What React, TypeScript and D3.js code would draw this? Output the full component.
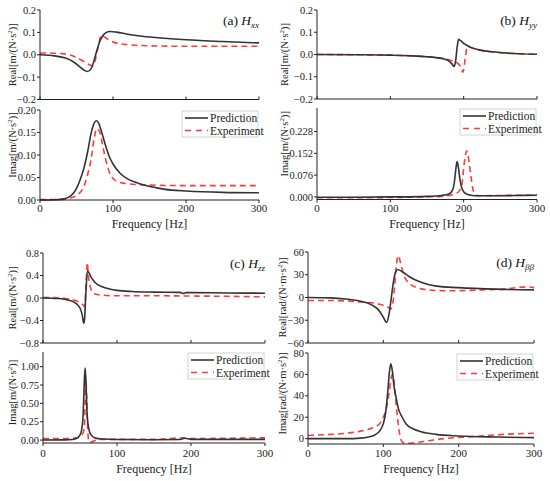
import * as d3 from 'd3';

// ---- panel (a) H_xx ----
const aRealPredF = [0, 20, 35, 45, 55, 60, 65, 70, 75, 78, 82, 86, 90, 96, 105, 120, 140, 170, 200, 250, 300];
const aRealPredV = [0, -0.005, -0.015, -0.03, -0.055, -0.068, -0.075, -0.062, -0.015, 0.02, 0.06, 0.085, 0.098, 0.104, 0.101, 0.092, 0.083, 0.074, 0.067, 0.059, 0.053];
const aRealExpF = [0, 20, 40, 50, 60, 68, 72, 76, 80, 84, 88, 95, 105, 120, 150, 200, 300];
const aRealExpV = [0.008, 0.007, 0.0, -0.012, -0.03, -0.045, -0.05, -0.02, 0.04, 0.088, 0.08, 0.065, 0.052, 0.045, 0.04, 0.038, 0.038];
const aImagPredF = [0, 20, 30, 40, 50, 55, 60, 65, 70, 74, 77, 80, 85, 90, 95, 100, 110, 120, 130, 145, 160, 180, 200, 250, 300];
const aImagPredV = [0, 0.0005, 0.002, 0.007, 0.026, 0.045, 0.07, 0.105, 0.148, 0.17, 0.176, 0.172, 0.148, 0.12, 0.096, 0.08, 0.059, 0.047, 0.04, 0.032, 0.027, 0.022, 0.02, 0.017, 0.016];
const aImagExpF = [0, 20, 35, 40, 50, 60, 65, 70, 74, 78, 82, 86, 90, 95, 100, 105, 110, 120, 150, 200, 300];
const aImagExpV = [0.001, 0.001, 0.002, 0.004, 0.01, 0.03, 0.055, 0.09, 0.135, 0.159, 0.15, 0.12, 0.09, 0.062, 0.048, 0.042, 0.039, 0.036, 0.033, 0.032, 0.032];

// ---- panel (b) H_yy ----
const bRealPredF = [0, 50, 100, 130, 150, 165, 175, 180, 184, 187, 189, 191, 193, 196, 200, 210, 220, 240, 260, 300];
const bRealPredV = [0, -0.001, -0.003, -0.006, -0.01, -0.015, -0.022, -0.03, -0.042, -0.054, -0.03, 0.03, 0.068, 0.062, 0.05, 0.032, 0.022, 0.012, 0.006, 0.001];
const bRealExpF = [0, 50, 100, 130, 150, 165, 175, 183, 190, 195, 199, 202, 205, 210, 220, 240, 260, 300];
const bRealExpV = [0, -0.001, -0.003, -0.006, -0.01, -0.015, -0.02, -0.027, -0.035, -0.05, -0.08, -0.02, 0.035, 0.03, 0.02, 0.011, 0.006, 0.001];
const bImagPredF = [0, 50, 100, 150, 170, 180, 184, 187, 189, 191, 193, 195, 197, 200, 205, 210, 220, 240, 270, 300];
const bImagPredV = [-0.001, -0.001, 0.0, 0.002, 0.005, 0.01, 0.02, 0.045, 0.09, 0.123, 0.1, 0.06, 0.035, 0.018, 0.009, 0.006, 0.004, 0.004, 0.005, 0.006];
const bImagExpF = [0, 50, 100, 150, 170, 180, 190, 195, 198, 200, 202, 204, 206, 208, 210, 212, 215, 220, 250, 300];
const bImagExpV = [-0.003, -0.003, -0.002, 0, 0.002, 0.005, 0.012, 0.025, 0.05, 0.1, 0.14, 0.16, 0.145, 0.11, 0.07, 0.035, 0.01, 0.004, 0.005, 0.006];

// ---- panel (c) H_zz ----
const cRealPredF = [0, 20, 35, 45, 50, 53, 55, 56, 58, 60, 62, 65, 70, 80, 90, 100, 120, 150, 185, 190, 193, 200, 250, 300];
const cRealPredV = [0, -0.01, -0.04, -0.1, -0.18, -0.3, -0.45, -0.4, 0.1, 0.48, 0.45, 0.37, 0.28, 0.2, 0.16, 0.135, 0.115, 0.105, 0.1, 0.08, 0.095, 0.095, 0.09, 0.085];
const cRealExpF = [0, 20, 35, 45, 50, 54, 56, 57, 58, 59, 60, 61, 63, 66, 70, 80, 100, 150, 200, 250, 300];
const cRealExpV = [0.01, 0.005, -0.02, -0.05, -0.08, -0.12, -0.15, -0.05, 0.2, 0.45, 0.63, 0.45, 0.25, 0.12, 0.07, 0.05, 0.04, 0.04, 0.035, 0.03, 0.02];
const cImagPredF = [0, 30, 40, 45, 50, 52, 54, 55, 56, 57, 58, 59, 60, 62, 65, 70, 80, 100, 150, 185, 192, 200, 300];
const cImagPredV = [0, 0.002, 0.008, 0.02, 0.07, 0.13, 0.3, 0.55, 0.85, 0.98, 0.8, 0.5, 0.3, 0.15, 0.07, 0.03, 0.015, 0.008, 0.005, 0.008, 0.025, 0.01, 0.01];
const cImagExpF = [0, 30, 45, 50, 54, 56, 57, 58, 59, 60, 61, 62, 64, 67, 72, 80, 100, 150, 190, 200, 250, 300];
const cImagExpV = [0.02, 0.02, 0.03, 0.05, 0.09, 0.2, 0.5, 0.83, 0.6, 0.25, 0.05, -0.02, -0.03, -0.02, 0.0, 0.01, 0.01, 0.01, 0.03, 0.02, 0.025, 0.03];

// ---- panel (d) H_bb ----
const dRealPredF = [0, 30, 50, 70, 85, 95, 100, 104, 107, 110, 113, 116, 119, 125, 135, 150, 170, 200, 250, 300];
const dRealPredV = [0, -0.5, -2, -5, -10, -18, -26, -33, -25, -5, 18, 33, 37, 34, 27, 20, 15, 13, 11, 10];
const dRealExpF = [0, 30, 50, 70, 85, 95, 105, 110, 113, 115, 117, 120, 123, 127, 135, 145, 160, 180, 200, 230, 260, 290, 300];
const dRealExpV = [-4, -4, -4.5, -6, -7, -9, -12, -15, -5, 15, 40, 55, 45, 30, 18, 13, 10, 9, 9, 10, 11, 14, 13];
const dImagPredF = [0, 50, 70, 80, 90, 95, 100, 103, 106, 108, 110, 112, 114, 117, 120, 125, 130, 140, 150, 170, 200, 250, 300];
const dImagPredV = [0, 0, 0.5, 1.5, 4, 7, 14, 24, 45, 62, 70, 63, 50, 38, 28, 20, 14, 9, 6.5, 4, 2.5, 1.5, 1];
const dImagExpF = [0, 30, 50, 70, 85, 95, 100, 104, 108, 110, 112, 114, 116, 118, 120, 122, 125, 130, 140, 160, 180, 220, 260, 300];
const dImagExpV = [3, 4, 5, 7, 10, 14, 20, 28, 45, 55, 60, 55, 40, 25, 12, 3, -3, -4.5, -4, -2, 0, 2, 4, 5];

const freqTicks = [0, 100, 200, 300];

const FONT = '"Liberation Serif", "Times New Roman", serif';
const PRED = '#333333';
const EXP = '#ff3b3b';

type Sub = {
  y0: number; y1: number; domain: [number, number]; ticks: number[]; fmt: string;
  kind: string; unit: string; labelShift: number;
  predF: number[]; predV: number[]; expF: number[]; expV: number[];
};
type Panel = {
  id: string; letter: string; sub: string; left: number; right: number;
  tickY: number; titleY: number; labelX: number; top: Sub; bot: Sub;
};

const panels: Panel[] = [
  {
    id: 'a', letter: '(a) ', sub: 'xx', left: 40, right: 259, tickY: 212, titleY: 228, labelX: 12,
    top: { y0: 10, y1: 99.5, domain: [-0.2, 0.2], ticks: [-0.2, -0.1, 0, 0.1, 0.2], fmt: '.1f', kind: 'Real', unit: 'm/(N·s', labelShift: 0, predF: aRealPredF, predV: aRealPredV, expF: aRealExpF, expV: aRealExpV },
    bot: { y0: 110, y1: 200, domain: [0, 0.2], ticks: [0, 0.05, 0.1, 0.15, 0.2], fmt: '.2f', kind: 'Imag', unit: 'm/(N·s', labelShift: -10, predF: aImagPredF, predV: aImagPredV, expF: aImagExpF, expV: aImagExpV },
  },
  {
    id: 'b', letter: '(b) ', sub: 'yy', left: 317, right: 537, tickY: 212, titleY: 228, labelX: 284,
    top: { y0: 10, y1: 99, domain: [-0.2, 0.2], ticks: [-0.2, -0.1, 0, 0.1, 0.2], fmt: '.1f', kind: 'Real', unit: 'm/(N·s', labelShift: 0, predF: bRealPredF, predV: bRealPredV, expF: bRealExpF, expV: bRealExpV },
    bot: { y0: 108, y1: 199.5, domain: [-0.009, 0.31], ticks: [0, 0.076, 0.152, 0.228], fmt: '.3f', kind: 'Imag', unit: 'm/(N·s', labelShift: -10, predF: bImagPredF, predV: bImagPredV, expF: bImagExpF, expV: bImagExpV },
  },
  {
    id: 'c', letter: '(c) ', sub: 'zz', left: 43, right: 265, tickY: 457, titleY: 473, labelX: 12,
    top: { y0: 253, y1: 343, domain: [-0.8, 0.8], ticks: [-0.8, -0.4, 0, 0.4, 0.8], fmt: '.1f', kind: 'Real', unit: 'm/(N·s', labelShift: 0, predF: cRealPredF, predV: cRealPredV, expF: cRealExpF, expV: cRealExpV },
    bot: { y0: 352, y1: 443, domain: [-0.04, 1.2], ticks: [0, 0.25, 0.5, 0.75, 1], fmt: '.2f', kind: 'Imag', unit: 'm/(N·s', labelShift: -5, predF: cImagPredF, predV: cImagPredV, expF: cImagExpF, expV: cImagExpV },
  },
  {
    id: 'd', letter: '(d) ', sub: 'ββ', left: 308, right: 534, tickY: 457, titleY: 473, labelX: 282,
    top: { y0: 252, y1: 343, domain: [-60, 60], ticks: [-60, -30, 0, 30, 60], fmt: 'd', kind: 'Real', unit: 'rad/(N·m·s', labelShift: 0, predF: dRealPredF, predV: dRealPredV, expF: dRealExpF, expV: dRealExpV },
    bot: { y0: 353, y1: 444, domain: [-5, 80], ticks: [0, 20, 40, 60, 80], fmt: 'd', kind: 'Imag', unit: 'rad/(N·m·s', labelShift: -5, predF: dImagPredF, predV: dImagPredV, expF: dImagExpF, expV: dImagExpV },
  },
];

function SubPlot({ p, s, isBottom }: { p: Panel; s: Sub; isBottom: boolean }) {
  const x = d3.scaleLinear().domain([0, 300]).range([p.left, p.right]);
  const y = d3.scaleLinear().domain(s.domain).range([s.y1, s.y0]);
  const fmt = d3.format(s.fmt);
  const line = d3.line<[number, number]>().x((d) => x(d[0])).y((d) => y(d[1])).curve(d3.curveMonotoneX);
  const pred = line(s.predF.map((f, i) => [f, s.predV[i]]) as [number, number][]) || '';
  const exp = line(s.expF.map((f, i) => [f, s.expV[i]]) as [number, number][]) || '';
  const clipId = `clip-${p.id}-${isBottom ? 'b' : 't'}`;
  const cy = (s.y0 + s.y1) / 2 + s.labelShift;
  return (
    <g>
      <defs>
        <clipPath id={clipId}>
          <rect x={p.left} y={s.y0 - 1} width={p.right - p.left} height={s.y1 - s.y0 + 2} />
        </clipPath>
      </defs>
      <g clipPath={`url(#${clipId})`}>
        <path d={exp} fill="none" stroke={EXP} strokeWidth={1.6} strokeDasharray="6,4" />
        <path d={pred} fill="none" stroke={PRED} strokeWidth={1.6} />
      </g>
      <line x1={p.left} x2={p.left} y1={s.y0} y2={s.y1} stroke="#222" strokeWidth={1} />
      <line x1={p.left} x2={p.right} y1={s.y1} y2={s.y1} stroke="#222" strokeWidth={1} />
      {s.ticks.map((t) => (
        <g key={t}>
          <line x1={p.left - 3} x2={p.left} y1={y(t)} y2={y(t)} stroke="#222" />
          <text x={p.left - 4} y={y(t)} dy="0.35em" textAnchor="end" fontFamily={FONT} fontSize={10.5} fill="#222">
            {fmt(t)}
          </text>
        </g>
      ))}
      {freqTicks.map((f) => (
        <line key={f} x1={x(f)} x2={x(f)} y1={s.y1} y2={isBottom ? s.y1 + 3 : s.y1 - 3} stroke="#222" />
      ))}
      {isBottom &&
        freqTicks.map((f) => (
          <text key={`l${f}`} x={x(f)} y={p.tickY} textAnchor="middle" fontFamily={FONT} fontSize={11} fill="#222">
            {f}
          </text>
        ))}
      <text transform={`translate(${p.labelX},${cy}) rotate(-90)`} textAnchor="middle" fontFamily={FONT} fontSize={10.5} fill="#222" dy="0.35em">
        {s.kind}[{s.unit}
        <tspan dy={-4} fontSize={7}>2</tspan>
        <tspan dy={4}>)]</tspan>
      </text>
    </g>
  );
}

function PanelView({ p }: { p: Panel }) {
  const lw = 76;
  const lx = p.right - lw - 1;
  const ly = p.bot.y0 + 1;
  return (
    <g>
      <SubPlot p={p} s={p.top} isBottom={false} />
      <SubPlot p={p} s={p.bot} isBottom={true} />
      <text x={p.right} y={p.top.y0 + 15} textAnchor="end" fontFamily={FONT} fontSize={13.5} fill="#111">
        {p.letter}
        <tspan fontStyle="italic">H</tspan>
        <tspan fontStyle="italic" fontSize={9} dy={3}>{p.sub}</tspan>
      </text>
      <text x={(p.left + p.right) / 2} y={p.titleY} textAnchor="middle" fontFamily={FONT} fontSize={12} fill="#222">
        Frequency [Hz]
      </text>
      <rect x={lx} y={ly} width={lw} height={26} fill="#fff" stroke="#c8c8c8" strokeWidth={0.8} />
      <line x1={lx + 3} x2={lx + 26} y1={ly + 7} y2={ly + 7} stroke={PRED} strokeWidth={1.6} />
      <line x1={lx + 3} x2={lx + 26} y1={ly + 19.5} y2={ly + 19.5} stroke={EXP} strokeWidth={1.6} strokeDasharray="6,5" />
      <text x={lx + 28} y={ly + 7} dy="0.35em" fontFamily={FONT} fontSize={11.5} fill="#222">Prediction</text>
      <text x={lx + 28} y={ly + 19.5} dy="0.35em" fontFamily={FONT} fontSize={11.5} fill="#222">Experiment</text>
    </g>
  );
}

export default function App() {
  return (
    <svg width={550} height={481} style={{ position: 'absolute', left: 0, top: 0, background: '#fff' }}>
      {panels.map((p) => (
        <PanelView key={p.id} p={p} />
      ))}
    </svg>
  );
}
